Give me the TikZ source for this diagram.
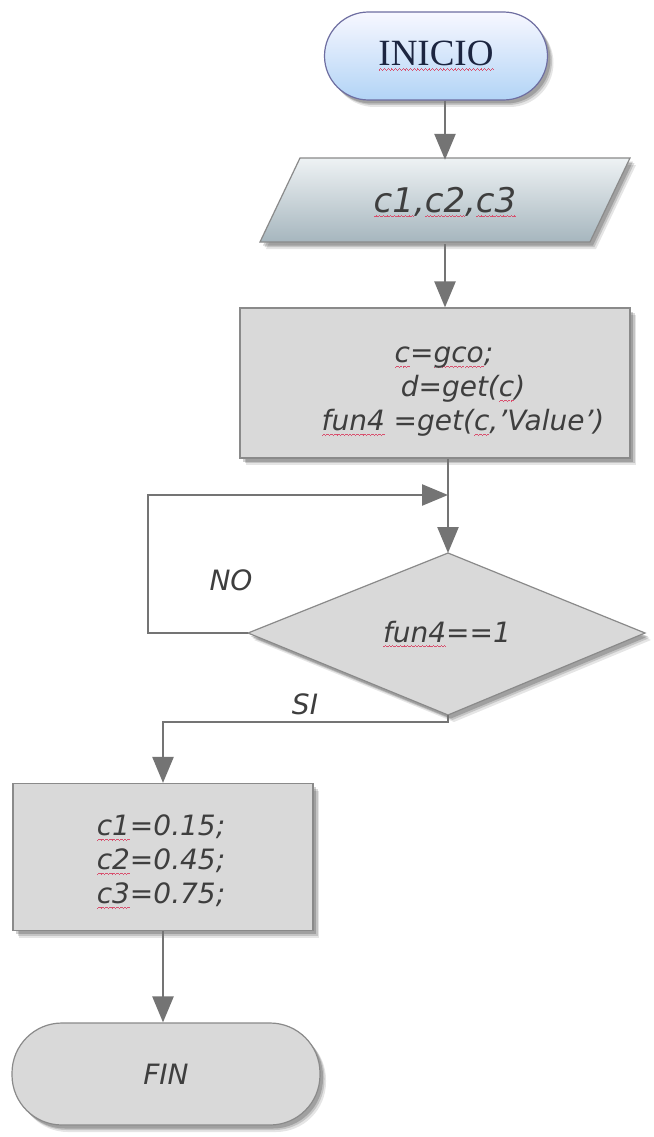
\documentclass[tikz,border=0pt]{standalone}
\usepackage{fontspec}
\setmainfont{DejaVu Sans}
\newfontfamily\titleface{Liberation Serif}
\usetikzlibrary{arrows.meta,shadows}

\definecolor{textgray}{HTML}{3E3E3E}
\definecolor{titleblue}{HTML}{1C2540}
\definecolor{boxgray}{HTML}{D9D9D9}
\definecolor{bordergray}{HTML}{8A8A8A}
\definecolor{linegray}{HTML}{747474}
\definecolor{wavered}{HTML}{D8506E}

% spell-check style wavy underline, built from tiny rules
\newcommand\wavecell{\hbox{%
  \rule[-5.2pt]{0.9pt}{0.9pt}\rule[-4.4pt]{0.9pt}{0.9pt}%
  \rule[-3.6pt]{0.9pt}{0.9pt}\rule[-4.4pt]{0.9pt}{0.9pt}}}
\newsavebox\sqbox
\newcommand\sq[1]{\sbox\sqbox{#1}\leavevmode
  \rlap{\color{wavered}\hbox to \wd\sqbox{\xleaders\wavecell\hfil}}%
  \usebox\sqbox}

\begin{document}
\begin{tikzpicture}[x=1pt,y=-1pt,
  txt/.style={font=\fontsize{28}{34}\selectfont\itshape, text=textgray},
  shadowed/.style={
    general shadow={fill=black,opacity=0.10,shadow xshift=6pt,shadow yshift=-7pt},
    general shadow={fill=black,opacity=0.14,shadow xshift=4.5pt,shadow yshift=-5pt},
    general shadow={fill=black,opacity=0.18,shadow xshift=3pt,shadow yshift=-3.5pt}},
  procbox/.style={draw=bordergray, line width=1.2pt, fill=boxgray, shadowed, inner sep=0pt},
  arr/.style={draw=linegray, line width=2.5pt, -{Triangle[length=26pt,width=21pt]}},
]
\useasboundingbox (0,0) rectangle (653,1137);
\fill[white] (0,0) rectangle (653,1137);

% start terminal
\node[draw=bordergray!80!blue, line width=1.2pt, rounded corners=44pt,
      top color=white!90!blue!30, bottom color={rgb,255:red,178;green,212;blue,246},
      shadowed, minimum width=223pt, minimum height=88pt, inner sep=0pt,
      font=\titleface\fontsize{37}{40}\selectfont, text=titleblue]
      (ini) at (436,56) {\sq{INICIO}};

% input parallelogram
\path[draw=bordergray, line width=1.2pt, top color={rgb,255:red,238;green,242;blue,244},
      bottom color={rgb,255:red,166;green,182;blue,190}, shadowed]
      (300,158) -- (630,158) -- (590,242) -- (260,242) -- cycle;
\node[txt, font=\fontsize{34}{38}\selectfont\itshape, minimum width=330pt, minimum height=84pt, inner sep=0pt]
      (inp) at (445,202) {\sq{c1},\sq{c2},\sq{c3}};

% assignment block
\node[procbox, minimum width=390pt, minimum height=150pt] (proc) at (435,383) {};
\node[txt, align=center] (proctxt) at (463,392)
      {\sq{c}=\sq{gco};\hspace*{38pt}\\ d=get(\sq{c})\\ \sq{fun4} =get(\sq{c},'Value')};

% decision
\coordinate (dtop) at (448,553);
\coordinate (dright) at (645,633);
\coordinate (dbot) at (448,715);
\coordinate (dleft) at (248,633);
\path[draw=bordergray, line width=1.2pt, fill=boxgray, shadowed]
      (dtop) -- (dright) -- (dbot) -- (dleft) -- cycle;
\node[txt] (dec) at (447,634) {\sq{fun4}==1};
\coordinate (join) at (448,495);

% assignment of constants
\node[procbox, minimum width=300pt, minimum height=147pt] (vals) at (163,857) {};
\node[txt, align=left] (valstxt) at (161,862)
      {\sq{c1}=0.15;\\ \sq{c2}=0.45;\\ \sq{c3}=0.75;};

% end terminal
\node[draw=bordergray, line width=1.2pt, rounded corners=50pt, fill=boxgray, shadowed,
      minimum width=308pt, minimum height=102pt, inner sep=0pt, txt]
      (fin) at (166,1074) {FIN};

% connectors
\draw[arr] (ini.south -| inp) -- (inp.north);
\draw[arr] (inp.south) -- (inp.south |- proc.north);
\draw[arr] (proc.south -| dtop) -- (dtop);
\draw[arr] (dleft) -- ++(-100,0) |- (join);
\draw[arr] (dbot) -- ++(0,7) -| (vals.north);
\draw[arr] (vals.south) -- (vals.south |- fin.north);

% branch labels
\node[txt] (no) at (231,580) {NO};
\node[txt] (si) at (305,704) {SI};
\end{tikzpicture}
\end{document}
